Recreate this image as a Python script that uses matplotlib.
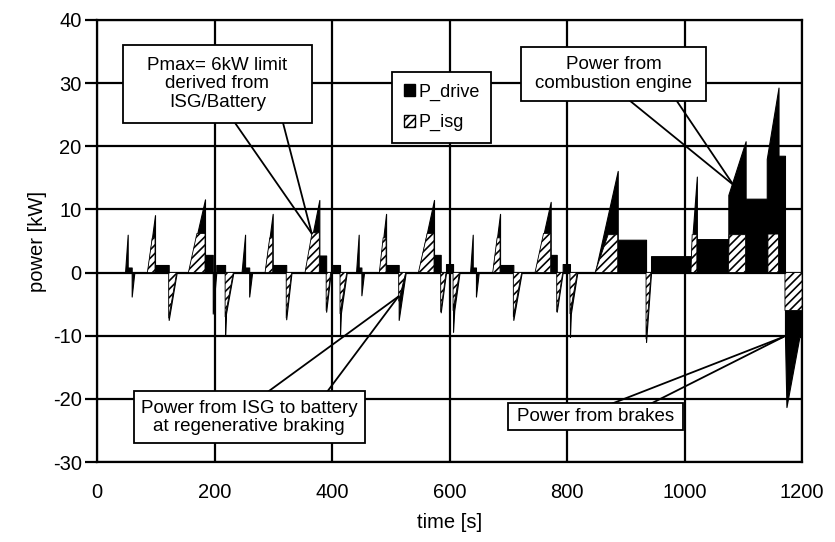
import matplotlib
matplotlib.use("Agg")
import matplotlib.pyplot as plt
from matplotlib.patches import Rectangle, Patch

plt.rcParams['font.family'] = ['Liberation Sans', 'DejaVu Sans']
plt.rcParams['hatch.linewidth'] = 1.2
plt.rcParams['axes.unicode_minus'] = False

# --- data (time in s, power in kW) ---
# P_drive: total power demand (black area)
drive_t = [0, 47.7, 52.2, 52.2, 59, 59, 63.5, 85.7, 98.7, 98.7, 122, 122, 135.6,
           155.5, 183.8, 183.8, 197, 197, 203, 203, 218, 218, 219.5, 232,
           246, 252, 252, 259, 259, 264, 286, 299, 299, 322, 322, 331,
           354, 378.4, 378.4, 390, 390, 397.7, 401, 401, 413.6, 413.6, 415, 425,
           440.9, 445.4, 445.4, 450, 450, 454.5, 480.5, 492, 492, 513.5, 513.5, 525.4,
           547, 573.6, 573.6, 585, 585, 594, 594, 606, 606, 608, 617,
           635, 639.5, 639.5, 645, 645, 649.7, 673.5, 686, 686, 708.6, 708.6, 722.8,
           745.5, 772.2, 772.2, 782.5, 782.5, 792.6, 792.6, 805, 805, 806.5, 817.5,
           847.7, 886.3, 886.3, 934.5, 934.5, 943, 943, 1011, 1021, 1021, 1074.6,
           1074.6, 1104, 1104, 1140, 1140, 1160, 1160, 1171, 1171, 1173.5, 1195.5, 1200]
drive_p = [0, 0, 6.0, 0.8, 0.8, -3.8, 0, 0, 9.1, 1.2, 1.2, -7.5, 0,
           0, 11.6, 2.8, 2.8, -6.5, 0, 1.2, 1.2, -9.8, -6.5, 0,
           0, 6.0, 0.8, 0.8, -3.8, 0, 0, 9.3, 1.2, 1.2, -7.4, 0,
           0, 11.5, 2.7, 2.7, -6.2, 0, 0, 1.2, 1.2, -9.8, -6.5, 0,
           0, 6.0, 0.8, 0.8, -3.6, 0, 0, 9.3, 1.2, 1.2, -7.5, 0,
           0, 11.5, 2.8, 2.8, -6.3, 0, 1.35, 1.35, -9.4, -6.0, 0,
           0, 6.0, 0.8, 0.8, -3.8, 0, 0, 9.3, 1.2, 1.2, -7.5, 0,
           0, 11.2, 2.8, 2.8, -6.2, 0, 1.35, 1.35, -10.2, -6.5, 0,
           0, 16.1, 5.2, 5.2, -11.0, 0, 2.6, 2.6, 15.2, 5.3, 5.3,
           12.3, 20.8, 11.7, 11.7, 18.0, 29.3, 18.5, 18.5, -10.2, -21.3, -10.2, -10.2]

# P_isg: share delivered / recovered by the ISG (hatched area)
isg_t = [0, 85.7, 94, 98.7, 98.7, 122, 122, 135.6, 155.5, 170, 183.8, 183.8,
         218, 218, 232,
         286, 294, 299, 299, 322, 322, 331, 354, 366, 378.4, 378.4,
         390, 390, 397.7, 413.6, 413.6, 425,
         480.5, 487, 492, 492, 513.5, 513.5, 525.4, 547, 562, 573.6, 573.6,
         585, 585, 594, 606, 606, 617,
         673.5, 681, 686, 686, 708.6, 708.6, 722.8, 745.5, 760, 772.2, 772.2,
         782.5, 782.5, 792.6, 805, 805, 817.5,
         847.7, 870, 886.3, 886.3, 934.5, 934.5, 943, 1011, 1013, 1021, 1021,
         1074.6, 1076, 1104, 1104, 1142, 1142, 1160, 1160, 1171, 1171, 1200]
isg_p = [0, 0, 5.5, 5.5, 0, 0, -7.2, 0, 0, 6.2, 6.2, 0,
         0, -7.0, 0,
         0, 5.5, 5.5, 0, 0, -7.2, 0, 0, 6.3, 6.3, 0,
         0, -6.0, 0, 0, -6.5, 0,
         0, 5.5, 5.5, 0, 0, -4.5, 0, 0, 6.2, 6.2, 0,
         0, -6.2, 0, 0, -6.0, 0,
         0, 5.5, 5.5, 0, 0, -7.0, 0, 0, 6.2, 6.2, 0,
         0, -6.2, 0, 0, -6.5, 0,
         0, 6.0, 6.0, 0, 0, -10.5, 0, 0, 6.0, 6.0, 0,
         0, 6.0, 6.0, 0, 0, 6.1, 6.1, 0, 0, -6.0, -6.0]

x_ticks = [0, 200, 400, 600, 800, 1000, 1200]
y_ticks = [-30, -20, -10, 0, 10, 20, 30, 40]

fig = plt.figure(figsize=(8.35, 5.42), dpi=100)
ax = fig.add_axes([0.1162, 0.1476, 0.8443, 0.8155])

ax.fill_between(drive_t, drive_p, 0, facecolor='black', edgecolor='black',
                linewidth=0.8, zorder=2)
ax.fill_between(isg_t, isg_p, 0, facecolor='white', edgecolor='black',
                hatch='////', linewidth=0.6, zorder=3)

ax.set_xlim(0, 1200)
ax.set_ylim(-30, 40)
ax.set_xticks(x_ticks)
ax.set_yticks(y_ticks)
ax.grid(True, color='black', linewidth=1.6)
ax.set_axisbelow(True)
for s in ax.spines.values():
    s.set_linewidth(1.6)
ax.tick_params(axis='x', length=0, pad=15, labelsize=14.5)
ax.tick_params(axis='y', direction='out', length=9, width=1.6, pad=2, labelsize=14.5)
ax.set_xlabel('time [s]', fontsize=14.5, labelpad=8)
ax.set_ylabel('power [kW]', fontsize=14.5, labelpad=4)


def callout(x0, x1, y0, y1, text, base, tip):
    ax.add_patch(Rectangle((x0, y0), x1 - x0, y1 - y0, facecolor='white',
                           edgecolor='black', linewidth=1.3, zorder=6))
    ax.text((x0 + x1) / 2, (y0 + y1) / 2, text, ha='center', va='center',
            fontsize=13.5, linespacing=1.1, zorder=7)
    for bx, by in base:
        ax.plot([bx, tip[0]], [by, tip[1]], color='black', linewidth=1.3, zorder=5)


callout(44.3, 365.1, 23.7, 36.1, 'Pmax= 6kW limit\nderived from\nISG/Battery',
        [(234.9, 23.7), (316.6, 23.7)], (365.4, 6.2))
callout(721.7, 1036.6, 27.2, 35.7, 'Power from\ncombustion engine',
        [(907.2, 27.2), (986.7, 27.2)], (1083, 13.9))
callout(62.2, 456, -27.0, -18.8, 'Power from ISG to battery\nat regenerative braking',
        [(292, -18.8), (392.3, -18.8)], (512.9, -3.8))
callout(699.6, 997.4, -25.0, -20.7, 'Power from brakes',
        [(878, -20.7), (944, -20.7)], (1168, -10.2))

handles = [Patch(facecolor='black', edgecolor='black'),
           Patch(facecolor='white', edgecolor='black', hatch='////')]
leg = ax.legend(handles, ['P_drive', 'P_isg'], loc='upper left',
                bbox_to_anchor=(0.4184, 0.883), borderaxespad=0, fontsize=13,
                fancybox=False, framealpha=1, edgecolor='black',
                handlelength=0.6, handleheight=0.6, handletextpad=0.2,
                labelspacing=0.75, borderpad=0.65)
leg.get_frame().set_linewidth(1.3)
leg.set_zorder(8)

fig.savefig('out.png', dpi=100)
